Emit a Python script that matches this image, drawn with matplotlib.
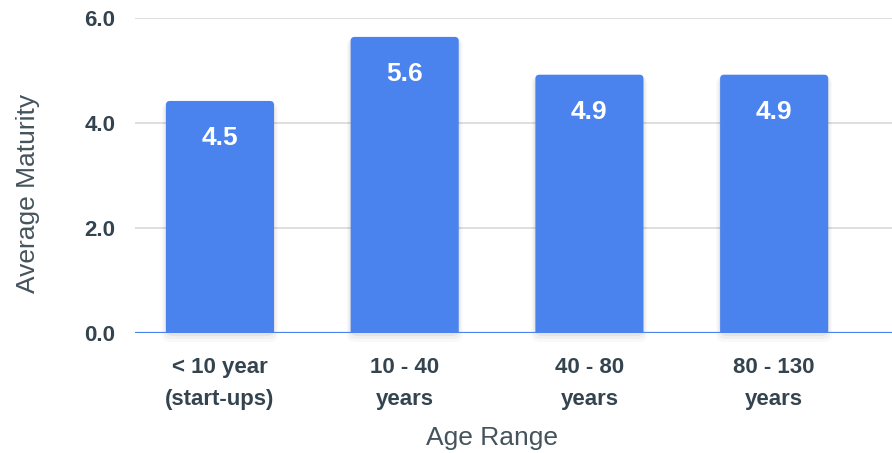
import matplotlib
matplotlib.use("Agg")
import matplotlib.pyplot as plt
from matplotlib.patches import FancyBboxPatch

categories = ["< 10 year\n(start-ups)", "10 - 40\nyears", "40 - 80\nyears", "80 - 130\nyears"]
maturity = [4.42, 5.64, 4.92, 4.92]
value_labels = ["4.5", "5.6", "4.9", "4.9"]
y_ticks = [0.0, 2.0, 4.0, 6.0]

bar_color = "#4a83ee"
tick_color = "#34444f"
label_color = "#45535c"

plt.rcParams["font.family"] = ["Liberation Sans", "DejaVu Sans"]

fig = plt.figure(figsize=(8.92, 4.53), dpi=100)
ax = fig.add_axes([135 / 892, 1 - 333 / 453, 1 - 135 / 892, (333 - 18) / 453])

ax.set_ylim(0, 6.0)
ax.set_xlim(-0.46, 3.638)

# px per data unit, keeps the rounded corners circular
px_x = 184.7
px_y = 52.5
width = 0.585
r = 4 / px_x

for i, v in enumerate(maturity):
    # soft shadow, a little below the baseline
    for k, a in [(8, 0.025), (5, 0.035), (2, 0.05)]:
        sh = FancyBboxPatch((i - width / 2 - k / px_x / 2, -k / px_y - 0.02), width + k / px_x,
                            v + k / px_y,
                            boxstyle="round,pad=0,rounding_size=%f" % (r * 2),
                            mutation_aspect=px_x / px_y, fc="black", ec="none",
                            alpha=a, zorder=2)
        sh.set_clip_on(False)
        ax.add_patch(sh)
    p = FancyBboxPatch((i - width / 2, -0.5), width, v + 0.5,
                       boxstyle="round,pad=0,rounding_size=%f" % r,
                       mutation_aspect=px_x / px_y, fc=bar_color, ec="none", zorder=3)
    ax.add_patch(p)
    ax.annotate(value_labels[i], (i, v), xytext=(0, -27), textcoords="offset points",
                ha="center", va="center", color="white", fontsize=19, fontweight="bold", zorder=5)

ax.axhline(0, color=bar_color, lw=1.6, zorder=4)

ax.set_yticks(y_ticks)
ax.set_yticklabels(["%.1f" % t for t in y_ticks], fontsize=16, fontweight="bold", color=tick_color)
ax.set_xticks(range(len(categories)))
ax.set_xticklabels(categories, fontsize=16, fontweight="bold", color=tick_color, linespacing=1.7)
ax.tick_params(axis="y", length=0, pad=14)
ax.tick_params(axis="x", length=0, pad=17)

ax.grid(axis="y", color="#d9d9d9", lw=1.2, zorder=0)
ax.set_axisbelow(True)
for s in ax.spines.values():
    s.set_visible(False)

fig.text(492 / 892, 1 - 438 / 453, "Age Range", ha="center", va="center", fontsize=19, color=label_color)
fig.text(28 / 892, 1 - 193 / 453, "Average Maturity", ha="center", va="center", rotation=90,
         fontsize=19, color=label_color)

fig.savefig("out.png", dpi=100)
